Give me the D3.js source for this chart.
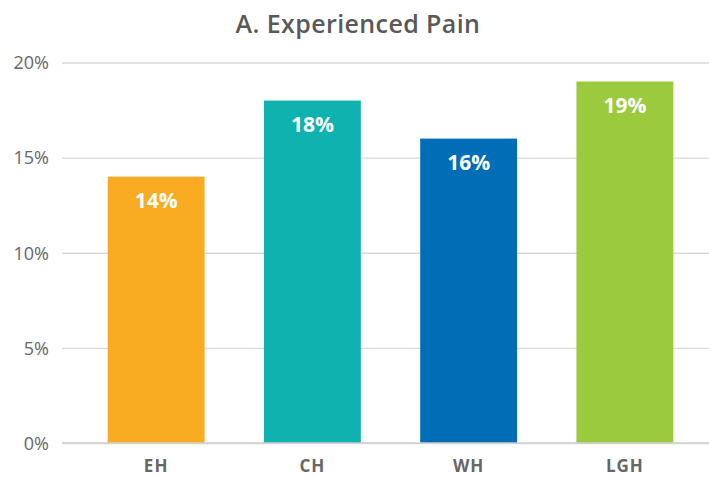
<!DOCTYPE html>
<html>
<head>
<meta charset="utf-8">
<script src="https://cdn.jsdelivr.net/npm/d3@7"></script>
<style>
  body { margin: 0; background: #fff; }
  svg { display: block; font-family: "Open Sans", sans-serif; }
</style>
</head>
<body>
<svg width="709" height="477"></svg>
<script>
// chart data
var categories = ["EH", "CH", "WH", "LGH"];
var values = [14, 18, 16, 19];
var colors = ["#F9AB22", "#0FB2AE", "#006DB6", "#9BCA3C"];
var yTicks = [0, 5, 10, 15, 20];
var title = "A. Experienced Pain";

var svg = d3.select("svg"),
    width = +svg.attr("width"),
    height = +svg.attr("height");

var x = d3.scaleBand()
    .domain(categories)
    .range([78, 703])
    .paddingInner(0.38)
    .paddingOuter(0.19);

var y = d3.scaleLinear()
    .domain([0, 20])
    .range([443, 62.5]);

// title
svg.append("text")
    .attr("x", 358)
    .attr("y", 33)
    .attr("text-anchor", "middle")
    .attr("fill", "#595959")
    .style("font-size", "25px")
    .style("letter-spacing", "0.4px")
    .style("font-weight", 600)
    .text(title);

// gridlines + y labels
var yAxis = svg.append("g")
    .attr("transform", "translate(62,0)")
    .call(d3.axisLeft(y).tickValues(yTicks).tickSize(-(width - 62)).tickPadding(13)
      .tickFormat(function(d) { return d + "%"; }));

yAxis.select(".domain").remove();
yAxis.selectAll(".tick line")
    .attr("stroke", "#d9d9d9")
    .attr("stroke-width", 1.3);
yAxis.selectAll(".tick text")
    .attr("fill", "#666")
    .style("font-size", "18px")
    .style("font-family", "'Open Sans', sans-serif")
    .attr("dy", "0.35em");

// bars
svg.selectAll("rect.bar")
    .data(values)
  .enter().append("rect")
    .attr("class", "bar")
    .attr("x", function(d, i) { return x(categories[i]); })
    .attr("y", function(d) { return y(d); })
    .attr("width", x.bandwidth())
    .attr("height", function(d) { return y(0) - y(d); })
    .attr("fill", function(d, i) { return colors[i]; });

// baseline
svg.append("line")
    .attr("x1", 62).attr("x2", width)
    .attr("y1", y(0)).attr("y2", y(0))
    .attr("stroke", "#cfcfcf")
    .attr("stroke-width", 1.3);

// value labels
svg.selectAll("text.val")
    .data(values)
  .enter().append("text")
    .attr("class", "val")
    .attr("x", function(d, i) { return x(categories[i]) + x.bandwidth() / 2; })
    .attr("y", function(d) { return y(d) + 31; })
    .attr("text-anchor", "middle")
    .attr("fill", "#fff")
    .style("font-size", "21px")
    .style("font-weight", 700)
    .text(function(d) { return d + "%"; });

// category labels
svg.selectAll("text.cat")
    .data(categories)
  .enter().append("text")
    .attr("class", "cat")
    .attr("x", function(d) { return x(d) + x.bandwidth() / 2; })
    .attr("y", 472)
    .attr("text-anchor", "middle")
    .attr("fill", "#666")
    .style("font-size", "17px")
    .style("letter-spacing", "1px")
    .style("font-weight", 700)
    .text(function(d) { return d; });
</script>
</body>
</html>
